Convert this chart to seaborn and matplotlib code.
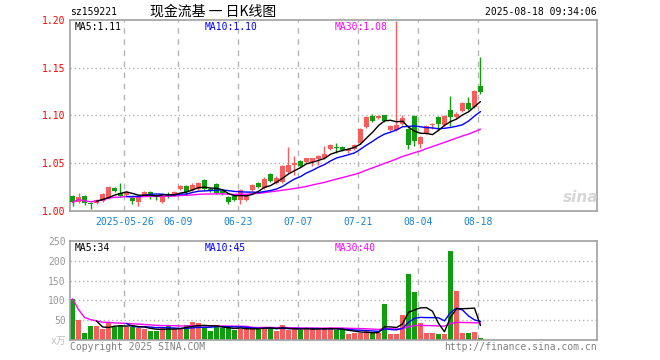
import numpy as np
import pandas as pd
import matplotlib
matplotlib.use("Agg")
import matplotlib.pyplot as plt
import seaborn as sns

sns.set_theme(style="white")
plt.rcParams['font.family'] = ['DejaVu Sans Mono', 'Noto Sans CJK SC']

# ---------------- data ----------------
opens = [1.016, 1.009, 1.016, 1.008, 1.008, 1.010, 1.014, 1.024, 1.019, 1.017,
         1.014, 1.009, 1.017, 1.020, 1.017, 1.009, 1.018, 1.017, 1.023, 1.026,
         1.022, 1.023, 1.032, 1.023, 1.028, 1.021, 1.015, 1.016, 1.012, 1.012,
         1.022, 1.029, 1.024, 1.039, 1.029, 1.030, 1.041, 1.048, 1.052, 1.051,
         1.051, 1.054, 1.055, 1.065, 1.067, 1.067, 1.063, 1.065, 1.071, 1.088,
         1.099, 1.097, 1.100, 1.085, 1.085, 1.091, 1.086, 1.099, 1.070, 1.082,
         1.090, 1.098, 1.090, 1.106, 1.098, 1.105, 1.113, 1.109, 1.131]
highs = [1.017, 1.019, 1.017, 1.009, 1.013, 1.019, 1.026, 1.025, 1.029, 1.021,
         1.015, 1.017, 1.021, 1.021, 1.018, 1.017, 1.020, 1.021, 1.027, 1.027,
         1.029, 1.030, 1.033, 1.025, 1.029, 1.022, 1.016, 1.017, 1.023, 1.018,
         1.028, 1.030, 1.036, 1.040, 1.037, 1.048, 1.067, 1.058, 1.053, 1.056,
         1.056, 1.059, 1.068, 1.070, 1.071, 1.068, 1.066, 1.070, 1.087, 1.099,
         1.102, 1.101, 1.101, 1.090, 1.199, 1.101, 1.087, 1.100, 1.079, 1.090,
         1.092, 1.099, 1.100, 1.120, 1.104, 1.114, 1.119, 1.127, 1.161]
lows = [1.005, 1.008, 1.006, 1.002, 1.007, 1.009, 1.013, 1.020, 1.015, 1.016,
        1.007, 1.005, 1.016, 1.013, 1.012, 1.008, 1.014, 1.016, 1.022, 1.017,
        1.021, 1.022, 1.022, 1.020, 1.018, 1.017, 1.007, 1.010, 1.007, 1.010,
        1.021, 1.024, 1.023, 1.030, 1.028, 1.029, 1.040, 1.038, 1.046, 1.050,
        1.047, 1.048, 1.054, 1.064, 1.061, 1.063, 1.061, 1.064, 1.070, 1.087,
        1.093, 1.096, 1.093, 1.084, 1.084, 1.090, 1.065, 1.068, 1.066, 1.081,
        1.086, 1.085, 1.089, 1.089, 1.097, 1.104, 1.106, 1.108, 1.122]
closes = [1.009, 1.015, 1.008, 1.007, 1.012, 1.018, 1.025, 1.021, 1.016, 1.020,
          1.010, 1.016, 1.020, 1.017, 1.015, 1.016, 1.017, 1.020, 1.026, 1.020,
          1.027, 1.029, 1.023, 1.021, 1.019, 1.019, 1.009, 1.012, 1.022, 1.017,
          1.027, 1.025, 1.033, 1.031, 1.035, 1.047, 1.048, 1.050, 1.047, 1.055,
          1.055, 1.058, 1.060, 1.069, 1.066, 1.064, 1.065, 1.069, 1.086, 1.098,
          1.094, 1.100, 1.094, 1.089, 1.090, 1.097, 1.069, 1.073, 1.078, 1.089,
          1.091, 1.091, 1.099, 1.098, 1.102, 1.113, 1.107, 1.126, 1.125]
volumes = [104, 50, 17, 35, 35, 28, 43, 33, 39, 33,
           33, 31, 28, 22, 22, 31, 35, 28, 28, 37,
           45, 42, 33, 22, 37, 30, 32, 25, 28, 28,
           28, 33, 33, 29, 22, 37, 25, 29, 25, 29,
           29, 29, 29, 29, 25, 25, 15, 18, 18, 22,
           18, 18, 92, 15, 15, 62, 167, 120, 42, 17,
           17, 14, 14, 225, 125, 17, 17, 19, 4]
tick_labels = ["2025-05-26", "06-09", "06-23", "07-07", "07-21", "08-04", "08-18"]
tick_dates = ["2025-05-26", "2025-06-09", "2025-06-23", "2025-07-07",
              "2025-07-21", "2025-08-04", "2025-08-18"]
price_ticks = [1.00, 1.05, 1.10, 1.15, 1.20]
vol_ticks = [0, 50, 100, 150, 200, 250]
vol_tick_labels = ["x万", "50", "100", "150", "200", "250"]

# trading calendar
dates = pd.bdate_range("2025-05-13", "2025-08-18")
dates = dates[dates != pd.Timestamp("2025-06-02")]

df = pd.DataFrame({"date": dates, "open": opens, "high": highs, "low": lows,
                   "close": closes, "vol": volumes})
df["idx"] = np.arange(len(df))
df["ma5"] = df["close"].rolling(5).mean()
df["ma10"] = df["close"].rolling(10).mean()
df["ma30"] = df["close"].rolling(30, min_periods=1).mean()
df["vma5"] = df["vol"].rolling(5).mean()
df["vma10"] = df["vol"].rolling(10).mean()
df["vma30"] = df["vol"].rolling(30, min_periods=1).mean()

RED = "#f85c5c"
GREEN = "#109e10"
colors = [RED if c >= o else GREEN for o, c in zip(df["open"], df["close"])]

W, H = 660, 360
fig = plt.figure(figsize=(6.6, 3.6), dpi=100, facecolor="white")

def rect(x0, y0, x1, y1):
    return [x0 / W, 1 - y1 / H, (x1 - x0) / W, (y1 - y0) / H]

ax = fig.add_axes(rect(70, 20, 597, 211))
ax2 = fig.add_axes(rect(70, 241, 597, 340))

xlim = (-0.417, 87.42)
tick_pos = [int(df.index[df["date"] == pd.Timestamp(d)][0]) - 0.35 for d in tick_dates]

GRID = "#b4b4b4"
for a in (ax, ax2):
    a.set_facecolor("white")
    for s in a.spines.values():
        s.set_color("#a0a0a0")
        s.set_linewidth(1.2)
    for xp in tick_pos:
        a.axvline(xp, color=GRID, lw=1, ls=(0, (4, 4)), zorder=0)
    a.set_xlim(*xlim)
    a.tick_params(length=0)

# price panel
for yv in price_ticks[1:-1]:
    ax.axhline(yv, color=GRID, lw=1, ls=(0, (1, 2)), zorder=0)

body_h = np.maximum(np.abs(df["close"] - df["open"]).values, 0.0008)
body_b = np.minimum(df["close"], df["open"]).values
ax.vlines(df["idx"], df["low"], df["high"], colors=colors, lw=1, zorder=2)
ax.bar(df["idx"], body_h, bottom=body_b, width=0.8, color=colors, zorder=3, linewidth=0)

sns.lineplot(data=df, x="idx", y="ma30", ax=ax, color="#ff00ff", lw=1, zorder=4)
sns.lineplot(data=df, x="idx", y="ma10", ax=ax, color="#0000ff", lw=1, zorder=5)
sns.lineplot(data=df, x="idx", y="ma5", ax=ax, color="black", lw=1, zorder=6)

ax.set_ylim(1.00, 1.20)
ax.set_yticks(price_ticks)
ax.set_yticklabels([f"{v:.2f}" for v in price_ticks], color="#ff0000", fontsize=7)
ax.set_xticks(tick_pos)
ax.set_xticklabels(tick_labels, color="#1682d4", fontsize=7)
ax.tick_params(axis="x", pad=4)
ax.tick_params(axis="y", pad=3)
ax.set_xlabel("")
ax.set_ylabel("")

ax.text(5 / 527, 0.965, "MA5:1.11", transform=ax.transAxes, color="black",
        fontsize=7, va="center", ha="left")
ax.text(135 / 527, 0.965, "MA10:1.10", transform=ax.transAxes, color="#0000ff",
        fontsize=7, va="center", ha="left")
ax.text(265 / 527, 0.965, "MA30:1.08", transform=ax.transAxes, color="#ff00ff",
        fontsize=7, va="center", ha="left")

# volume panel
for yv in vol_ticks[1:-1]:
    ax2.axhline(yv, color=GRID, lw=1, ls=(0, (1, 2)), zorder=0)
ax2.bar(df["idx"], df["vol"], width=0.8, color=colors, zorder=2, linewidth=0)
sns.lineplot(data=df, x="idx", y="vma30", ax=ax2, color="#ff00ff", lw=1, zorder=4)
sns.lineplot(data=df, x="idx", y="vma10", ax=ax2, color="#0000ff", lw=1, zorder=5)
sns.lineplot(data=df, x="idx", y="vma5", ax=ax2, color="black", lw=1, zorder=6)
ax2.set_ylim(0, 250)
ax2.set_yticks(vol_ticks)
ax2.set_yticklabels(vol_tick_labels, color="#999999", fontsize=7)
ax2.get_yticklabels()[0].set_color("#c0c0c0")
ax2.set_xticks([])
ax2.set_xlabel("")
ax2.set_ylabel("")
ax2.tick_params(axis="y", pad=3)

ax2.text(5 / 527, 0.93, "MA5:34", transform=ax2.transAxes, color="black",
         fontsize=7, va="center", ha="left")
ax2.text(135 / 527, 0.93, "MA10:45", transform=ax2.transAxes, color="#0000ff",
         fontsize=7, va="center", ha="left")
ax2.text(265 / 527, 0.93, "MA30:40", transform=ax2.transAxes, color="#ff00ff",
         fontsize=7, va="center", ha="left")

# header and footer
fig.text(70 / W, 1 - 12 / H, "sz159221", fontsize=7, color="black", va="center", ha="left")
fig.text(213 / W, 1 - 12 / H, "现金流基 一 日K线图", fontsize=10, color="black",
         va="center", ha="center", family=["Noto Sans CJK SC", "DejaVu Sans"])
fig.text(597 / W, 1 - 12 / H, "2025-08-18 09:34:06", fontsize=7, color="black",
         va="center", ha="right")
fig.text(70 / W, 1 - 347 / H, "Copyright 2025 SINA.COM", fontsize=7, color="#808080",
         va="center", ha="left")
fig.text(597 / W, 1 - 347 / H, "http://finance.sina.com.cn", fontsize=7, color="#808080",
         va="center", ha="right")
fig.text(581 / W, 1 - 197 / H, "sina", fontsize=11, color="#d6d6d6", style="italic",
         weight="bold", va="center", ha="center", family=["DejaVu Sans"])

fig.savefig("out.png", dpi=100, facecolor="white")
